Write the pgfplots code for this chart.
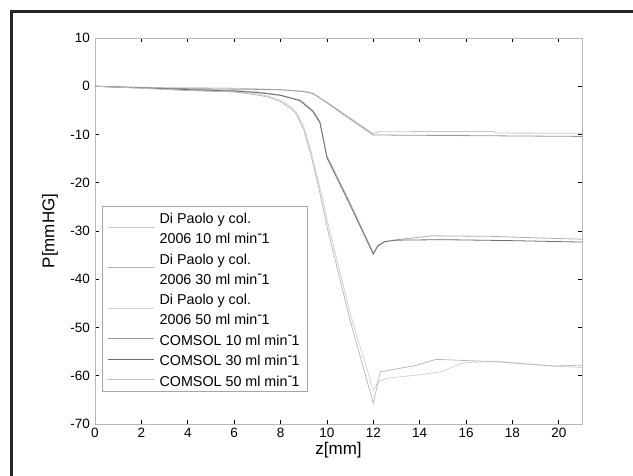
\documentclass[border=0pt]{standalone}
\usepackage{fontspec}
\setmainfont{Liberation Sans}
\usepackage{pgfplots}
\pgfplotsset{compat=1.18}
\definecolor{dpA}{HTML}{C8C8C8}
\definecolor{dpB}{HTML}{B0B0B0}
\definecolor{dpC}{HTML}{D4D4D4}
\definecolor{cmA}{HTML}{999999}
\definecolor{cmB}{HTML}{6E6E6E}
\definecolor{cmC}{HTML}{BBBBBB}
\newcommand{\ls}{\rule[-6pt]{0pt}{20pt}}
\newcommand{\mi}{min\raisebox{0.36em}{-}\kern-0.04em 1}
\begin{document}
\begin{tikzpicture}
\useasboundingbox (0,0) rectangle (633pt,476pt);
\fill[white] (0,0) rectangle (633pt,476pt);
\draw[black!85, line width=3pt] (11.5pt,0pt) -- (11.5pt,464.5pt) -- (633pt,464.5pt);
\begin{axis}[
  at={(95pt,52pt)}, anchor=south west,
  scale only axis, width=487pt, height=386pt,
  xmin=0, xmax=21, ymin=-70, ymax=10,
  xtick={0,2,...,20}, ytick={-70,-60,...,10},
  tick align=inside,
  major tick length=4pt,
  tick style={black, line width=0.8pt},
  axis line style={draw=black!28, line width=0.8pt},
  /pgf/number format/assume math mode=true,
  ticklabel style={font=\fontsize{13.5}{16}\selectfont, text=black},
  yticklabel style={inner sep=0pt, xshift=-5pt},
  xticklabel style={inner sep=0pt, yshift=-4pt},
  xlabel={z[mm]}, ylabel={P[mmHG]},
  every axis y label/.style={at={(axis description cs:-0.0924,0.5)}, rotate=90, anchor=center, font=\fontsize{17}{20}\selectfont},
  every axis x label/.style={at={(axis description cs:0.5,-0.0674)}, anchor=center, inner sep=0pt, font=\fontsize{17}{20}\selectfont},
  legend style={at={(0.0144,0.5655)}, anchor=north west,
    draw=black!35, line width=0.6pt, fill=white,
    font=\fontsize{14.3}{20}\selectfont,
    inner xsep=5pt, inner ysep=1pt,
    row sep=0pt,
    nodes={inner sep=2.5pt},
    cells={align=left, anchor=west}},
  legend image code/.code={\draw[#1] (0pt,0pt) -- (46pt,0pt); \path (49pt,0pt);},
  every axis plot/.append style={line width=0.8pt},
]
\addplot[dpA] coordinates {(0,0) (1,-0.1) (2,-0.2) (3,-0.3) (4,-0.3) (5,-0.35) (6,-0.4) (7,-0.55) (8,-0.7) (8.5,-0.85) (9,-1.05) (9.4,-1.5) (10,-3.3) (10.7,-5.6) (12,-9.8) (12.2,-9.45) (14,-9.4) (17.2,-9.4) (17.3,-9.7) (21,-9.75)};
\addlegendentry{\ls Di Paolo y col.\\\ls 2006 10 ml \mi}
\addplot[dpB] coordinates {(0,0) (2,-0.3) (4,-0.6) (6,-0.9) (7,-1.2) (8,-1.8) (8.84,-2.85) (9.4,-5) (9.7,-7.3) (10,-14.4) (11,-24.2) (12,-34.5) (12.2,-33.2) (12.5,-32.2) (13,-31.8) (14,-31.3) (14.5,-31.0) (17,-31.1) (19.5,-31.5) (21,-31.7)};
\addlegendentry{\ls Di Paolo y col.\\\ls 2006 30 ml \mi}
\addplot[dpC] coordinates {(0,0) (2,-0.4) (4,-0.8) (6,-1.1) (7,-1.6) (7.5,-2.1) (8,-2.9) (8.5,-4.4) (8.7,-5.5) (9.0,-8.3) (9.3,-13.2) (9.6,-19) (9.85,-24) (10,-27.5) (11,-47) (12,-63) (12.2,-61.3) (12.6,-60.5) (14,-59.8) (14.9,-59.2) (15.9,-57.3) (17.3,-57.0) (19.8,-58) (21,-58.3)};
\addlegendentry{\ls Di Paolo y col.\\\ls 2006 50 ml \mi}
\addplot[cmA] coordinates {(0,0) (1,-0.15) (2,-0.3) (3,-0.4) (4,-0.5) (5,-0.55) (6,-0.6) (7,-0.65) (8,-0.75) (8.5,-0.9) (9,-1.1) (9.4,-1.5) (10,-3.4) (10.7,-5.8) (12,-10.1) (15,-10.2) (18,-10.3) (21,-10.4)};
\addlegendentry{\ls COMSOL 10 ml \mi}
\addplot[cmB] coordinates {(0,0) (2,-0.35) (4,-0.7) (6,-1.0) (7,-1.3) (8,-1.9) (8.84,-3.0) (9.4,-5.3) (9.7,-7.6) (10,-14.8) (11,-24.6) (12,-34.8) (12.2,-33) (12.5,-32.2) (13,-31.9) (15,-31.8) (18,-32.0) (21,-32.3)};
\addlegendentry{\ls COMSOL 30 ml \mi}
\addplot[cmC] coordinates {(0,0) (2,-0.4) (4,-0.9) (6,-1.2) (7,-1.8) (7.5,-2.3) (8,-3.2) (8.5,-4.8) (8.7,-5.9) (9.0,-9) (9.3,-14) (9.6,-20) (9.85,-25.5) (10,-29) (11,-48.5) (12,-65.7) (12.3,-59.2) (13.9,-57.8) (14.7,-56.6) (17.3,-57.1) (19.8,-58) (21,-57.8)};
\addlegendentry{\ls COMSOL 50 ml \mi}
\end{axis}
\end{tikzpicture}
\end{document}
